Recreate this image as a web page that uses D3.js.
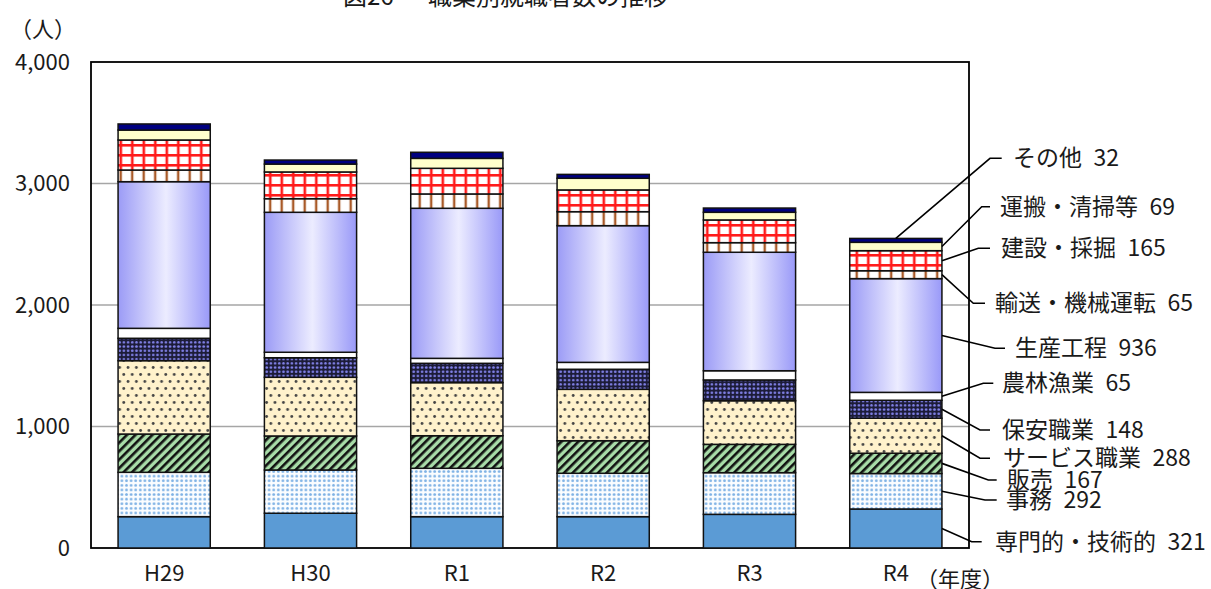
<!DOCTYPE html>
<html lang="ja">
<head>
<meta charset="utf-8">
<script src="https://cdn.jsdelivr.net/npm/d3@7"></script>
<style>
  html, body { margin: 0; padding: 0; background: #fff; }
  svg { display: block; font-family: "Noto Sans CJK JP", "Noto Sans", sans-serif; }
</style>
</head>
<body>
<div id="chart"></div>
<script>
// 年度
const years = ["H29", "H30", "R1", "R2", "R3", "R4"];

// 職業（下から積み上げ順）
const jobs = [
    "専門的・技術的", "事務", "販売", "サービス職業", "保安職業", "農林漁業",
    "生産工程", "輸送・機械運転", "建設・採掘", "運搬・清掃等", "その他"
];

// 就職者数（人）
const senmon  = [258, 286, 258, 258, 277, 321];
const jimu    = [365, 356, 398, 357, 343, 292];
const hanbai  = [315, 280, 268, 268, 233, 167];
const service = [604, 483, 437, 423, 359, 288];
const hoan    = [184, 161, 159, 165, 171, 148];
const nourin  = [82, 45, 41, 57, 76, 65];
const seisan  = [1207, 1152, 1235, 1125, 975, 936];
const yusou   = [96, 112, 118, 115, 79, 65];
const kensetsu = [247, 220, 211, 179, 187, 165];
const unpan   = [82, 65, 82, 96, 63, 69];
const sonota  = [50, 33, 50, 32, 35, 32];

const seriesValues = [senmon, jimu, hanbai, service, hoan, nourin,
                      seisan, yusou, kensetsu, unpan, sonota];

const yTicks = [0, 1000, 2000, 3000, 4000];

// ----------------------------------------
// layout
// ----------------------------------------
const W = 1211, H = 589;
const plot = { left: 91, right: 969, top: 62, bottom: 548 };
const ink = "#1a1a1a";

// fill per series (pattern ids defined below)
const fills = ["#5B9BD5", "url(#pJimu)", "url(#pHanbai)", "url(#pService)", "url(#pHoan)",
               "#ffffff", "url(#gSeisan)", "url(#pYusou)", "url(#pKensetsu)", "#FFFFCC", "#000080"];

// leader label placement: [elbow x, elbow y, line end x, text x]
const labelPos = [
    [971.7, 541.7, 981.7, 995],
    [985, 500, 996.7, 1006],
    [988.3, 480, 996.7, 1007],
    [980, 458.3, 990, 1003],
    [980, 430, 990, 1002],
    [983.3, 383.3, 993.3, 1002],
    [995, 348.3, 1005, 1015],
    [973.3, 303.3, 985, 995],
    [978.3, 248.3, 990, 1001],
    [981.7, 206.7, 990, 1000],
    [990, 158.3, 1001.7, 1013]
];

const svg = d3.select("#chart").append("svg")
    .attr("width", W)
    .attr("height", H);

// ----------------------------------------
// patterns
// ----------------------------------------
const defs = svg.append("defs");

// 事務: light blue dots
const pJ = defs.append("pattern").attr("id", "pJimu")
    .attr("patternUnits", "userSpaceOnUse").attr("width", 4.6).attr("height", 4.6);
pJ.append("rect").attr("width", 4.6).attr("height", 4.6).attr("fill", "#fbfdff");
pJ.append("circle").attr("cx", 2.3).attr("cy", 2.3).attr("r", 1.4).attr("fill", "#7fb2e5");

// 販売: black / green diagonal stripes
const pH = defs.append("pattern").attr("id", "pHanbai")
    .attr("patternUnits", "userSpaceOnUse").attr("width", 6).attr("height", 6)
    .attr("patternTransform", "rotate(45)");
pH.append("rect").attr("width", 6).attr("height", 6).attr("fill", "#a8dca8");
pH.append("rect").attr("width", 2.6).attr("height", 6).attr("fill", "#111");

// サービス職業: cream with dark dots
const pS = defs.append("pattern").attr("id", "pService")
    .attr("patternUnits", "userSpaceOnUse").attr("width", 8.4).attr("height", 14);
pS.append("rect").attr("width", 8.4).attr("height", 14).attr("fill", "#fff2cc");
pS.append("circle").attr("cx", 2).attr("cy", 3.5).attr("r", 1.4).attr("fill", "#444");
pS.append("circle").attr("cx", 6.2).attr("cy", 10.5).attr("r", 1.4).attr("fill", "#444");

// 保安職業: dark with blue dots
const pHo = defs.append("pattern").attr("id", "pHoan")
    .attr("patternUnits", "userSpaceOnUse").attr("width", 4.2).attr("height", 4.2);
pHo.append("rect").attr("width", 4.2).attr("height", 4.2).attr("fill", "#1c1c38");
pHo.append("circle").attr("cx", 2.1).attr("cy", 2.1).attr("r", 1.35).attr("fill", "#8080e6");

// 生産工程: horizontal gradient
const gS = defs.append("linearGradient").attr("id", "gSeisan")
    .attr("x1", "0%").attr("x2", "100%").attr("y1", "0%").attr("y2", "0%");
gS.append("stop").attr("offset", "0%").attr("stop-color", "#9b9bf6");
gS.append("stop").attr("offset", "52%").attr("stop-color", "#ececff");
gS.append("stop").attr("offset", "100%").attr("stop-color", "#9999f8");

// 輸送・機械運転: white with brown vertical stripes
const pY = defs.append("pattern").attr("id", "pYusou")
    .attr("patternUnits", "userSpaceOnUse").attr("width", 11.5).attr("height", 10);
pY.append("rect").attr("width", 11.5).attr("height", 10).attr("fill", "#fff");
pY.append("rect").attr("x", 4.5).attr("width", 2.4).attr("height", 10).attr("fill", "#a95a28");

// 建設・採掘: red grid
const pK = defs.append("pattern").attr("id", "pKensetsu")
    .attr("patternUnits", "userSpaceOnUse").attr("width", 11.5).attr("height", 10);
pK.append("rect").attr("width", 11.5).attr("height", 10).attr("fill", "#fff");
pK.append("rect").attr("x", 4.5).attr("width", 2.6).attr("height", 10).attr("fill", "#ff1a1a");
pK.append("rect").attr("y", 4).attr("width", 11.5).attr("height", 2.6).attr("fill", "#ff1a1a");

// ----------------------------------------
// scales
// ----------------------------------------
const x = d3.scaleBand()
    .domain(years)
    .range([plot.left, plot.right])
    .paddingInner(0.37)
    .paddingOuter(0.185);

const y = d3.scaleLinear()
    .domain([0, 4000])
    .range([plot.bottom, plot.top]);

// table for stack
const table = years.map((yr, i) => {
    const row = { year: yr };
    jobs.forEach((j, k) => row[j] = seriesValues[k][i]);
    return row;
});
const stacked = d3.stack().keys(jobs)(table);

// ----------------------------------------
// grid + frame
// ----------------------------------------
svg.append("g")
    .selectAll("line")
    .data(yTicks.filter(t => t > 0 && t < 4000))
    .join("line")
    .attr("x1", plot.left).attr("x2", plot.right)
    .attr("y1", d => y(d)).attr("y2", d => y(d))
    .attr("stroke", "#a6a6a6")
    .attr("stroke-width", 1.6);

svg.append("rect")
    .attr("x", plot.left).attr("y", plot.top)
    .attr("width", plot.right - plot.left)
    .attr("height", plot.bottom - plot.top)
    .attr("fill", "none")
    .attr("stroke", "#000")
    .attr("stroke-width", 1.8);

// y axis labels
const yAxis = svg.append("g")
    .attr("transform", `translate(${plot.left},0)`)
    .call(d3.axisLeft(y).tickValues(yTicks).tickFormat(d3.format(",")).tickSize(0).tickPadding(21));
yAxis.select(".domain").remove();
yAxis.selectAll("text")
    .attr("font-size", 22)
    .attr("font-family", "Noto Sans CJK JP")
    .attr("fill", ink);

// x axis labels
const xAxis = svg.append("g")
    .attr("transform", `translate(0,${plot.bottom})`)
    .call(d3.axisBottom(x).tickSize(0).tickPadding(17));
xAxis.select(".domain").remove();
xAxis.selectAll("text")
    .attr("font-size", 22)
    .attr("font-family", "Noto Sans CJK JP")
    .attr("fill", ink);

// ----------------------------------------
// bars
// ----------------------------------------
svg.append("g")
    .selectAll("g")
    .data(stacked)
    .join("g")
    .attr("fill", (d, i) => fills[i])
    .selectAll("rect")
    .data(d => d)
    .join("rect")
    .attr("x", d => x(d.data.year))
    .attr("y", d => y(d[1]))
    .attr("width", x.bandwidth())
    .attr("height", d => y(d[0]) - y(d[1]))
    .attr("stroke", "#111")
    .attr("stroke-width", 1.5);

// ----------------------------------------
// leader labels for last year
// ----------------------------------------
const last = years.length - 1;
const bx = x(years[last]);
const bw = x.bandwidth();

const leaders = svg.append("g");
stacked.forEach((s, k) => {
    const seg = s[last];
    const p = labelPos[k];
    // その他 starts at top centre, others at right edge middle
    const top = k === stacked.length - 1;
    const sx = top ? bx + bw / 2 : bx + bw;
    const sy = top ? y(seg[1]) : y((seg[0] + seg[1]) / 2);
    leaders.append("path")
        .attr("d", `M${sx},${sy}L${p[0]},${p[1]}L${p[2]},${p[1]}`)
        .attr("fill", "none")
        .attr("stroke", "#000")
        .attr("stroke-width", 1.6);
    leaders.append("text")
        .attr("x", p[3])
        .attr("y", p[1])
        .attr("dy", "0.35em")
        .attr("font-size", 23)
        .attr("fill", ink)
        .text(`${jobs[k]}\u2002${seriesValues[k][last]}`);
});

// ----------------------------------------
// titles / units
// ----------------------------------------
svg.append("text")
    .attr("x", 343).attr("y", 5)
    .attr("font-size", 24).attr("fill", ink)
    .text("図26");
svg.append("text")
    .attr("x", 428).attr("y", 5)
    .attr("font-size", 24).attr("fill", ink)
    .text("職業別就職者数の推移");

svg.append("text")
    .attr("x", 10).attr("y", 29)
    .attr("dy", "0.35em")
    .attr("font-size", 22).attr("fill", ink)
    .text("（人）");

svg.append("text")
    .attr("x", 916).attr("y", 579)
    .attr("dy", "0.35em")
    .attr("font-size", 22).attr("fill", ink)
    .text("（年度）");
</script>
</body>
</html>
